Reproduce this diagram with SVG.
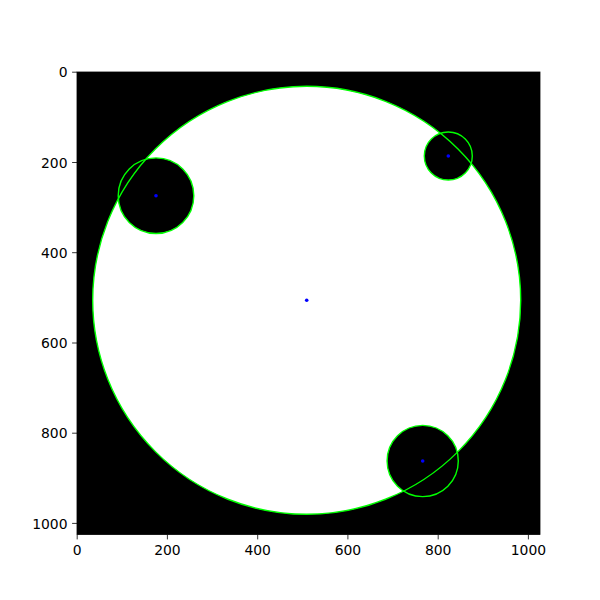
<svg xmlns="http://www.w3.org/2000/svg" width="600" height="600" viewBox="0 0 600 600">
<style>
.tick{stroke:#000;stroke-width:0.8}
.lbl{font-family:"DejaVu Sans",sans-serif;font-size:13.9px;fill:#000}
.ring{fill:none;stroke:#00ff00;stroke-width:1.4}
.dot{fill:#0000ff}
</style>
<rect width="600" height="600" fill="#fff"/>
<g id="image">
<rect x="77" y="72" width="463" height="462.5" fill="#000"/>
<circle cx="306.7" cy="300.3" r="214" fill="#fff"/>
<circle cx="156" cy="195.7" r="37.8" fill="#000"/>
<circle cx="448.3" cy="156" r="24" fill="#000"/>
<circle cx="422.7" cy="461" r="35.6" fill="#000"/>
</g>
<g id="connectors">
<circle class="ring" cx="306.7" cy="300.3" r="214"/>
<circle class="ring" cx="156" cy="195.7" r="37.8"/>
<circle class="ring" cx="448.3" cy="156" r="24"/>
<circle class="ring" cx="422.7" cy="461" r="35.6"/>
</g>
<g id="centers">
<circle class="dot" cx="306.7" cy="300.3" r="1.8"/>
<circle class="dot" cx="156" cy="195.7" r="1.8"/>
<circle class="dot" cx="448.3" cy="156" r="1.8"/>
<circle class="dot" cx="422.7" cy="461" r="1.8"/>
</g>
<g id="axes">
<rect x="77" y="72" width="463" height="462.5" fill="none" stroke="#000" stroke-width="0.8"/>
<g class="tick">
<line x1="77.2" y1="534.5" x2="77.2" y2="539.4"/>
<line x1="167.4" y1="534.5" x2="167.4" y2="539.4"/>
<line x1="257.7" y1="534.5" x2="257.7" y2="539.4"/>
<line x1="347.9" y1="534.5" x2="347.9" y2="539.4"/>
<line x1="438.2" y1="534.5" x2="438.2" y2="539.4"/>
<line x1="528.4" y1="534.5" x2="528.4" y2="539.4"/>
<line x1="72.1" y1="72.2" x2="77" y2="72.2"/>
<line x1="72.1" y1="162.5" x2="77" y2="162.5"/>
<line x1="72.1" y1="252.7" x2="77" y2="252.7"/>
<line x1="72.1" y1="343" x2="77" y2="343"/>
<line x1="72.1" y1="433.2" x2="77" y2="433.2"/>
<line x1="72.1" y1="523.4" x2="77" y2="523.4"/>
</g>
<g class="lbl" text-anchor="middle">
<text x="77.2" y="555">0</text>
<text x="167.4" y="555">200</text>
<text x="257.7" y="555">400</text>
<text x="347.9" y="555">600</text>
<text x="438.2" y="555">800</text>
<text x="528.4" y="555">1000</text>
</g>
<g class="lbl" text-anchor="end">
<text x="67.5" y="77.3">0</text>
<text x="67.5" y="167.6">200</text>
<text x="67.5" y="257.8">400</text>
<text x="67.5" y="348.1">600</text>
<text x="67.5" y="438.3">800</text>
<text x="67.5" y="528.5">1000</text>
</g>
</g>
</svg>
